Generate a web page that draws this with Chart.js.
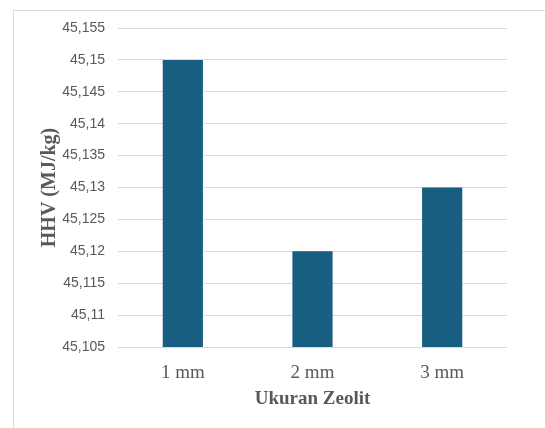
<!DOCTYPE html>
<html>
<head>
<meta charset="utf-8">
<script src="https://cdn.jsdelivr.net/npm/chart.js@4"></script>
<style>
    html, body { margin: 0; padding: 0; background: #fff; }
    #wrap { position: relative; width: 545px; height: 428px; overflow: hidden; }
    #frame { position: absolute; left: 13px; top: 10px; width: 600px; height: 500px; border-left: 1px solid #d9d9d9; border-top: 1px solid #d9d9d9; }
    #chart { position: absolute; left: 0; top: 0; }
</style>
</head>
<body>
<div id="wrap">
    <div id="frame"></div>
    <canvas id="chart" width="545" height="428"></canvas>
</div>
<script>
var categories = ["1 mm", "2 mm", "3 mm"];
var hhvValues = [45.15, 45.12, 45.13];
var yMin = 45.105;
var yMax = 45.155;
var yStep = 0.005;

function formatComma(v) {
    var s = (Math.round(v * 1000) / 1000).toString();
    return s.replace('.', ',');
}

var ctx = document.getElementById("chart").getContext('2d');
var myChart = new Chart(ctx, {
    type: 'bar',
    data: {
        labels: categories,
        datasets: [{
            data: hhvValues,
            backgroundColor: "#175E80",
            barPercentage: 0.62,
            categoryPercentage: 0.5
        }]
    },
    options: {
        responsive: false,
        animation: false,
        layout: {
            padding: { left: 0, right: 38, top: 28, bottom: 0 }
        },
        plugins: {
            legend: { display: false },
            tooltip: { enabled: false }
        },
        scales: {
            x: {
                grid: { display: false },
                border: { display: false },
                ticks: {
                    color: '#595959',
                    padding: 7,
                    font: { family: 'Liberation Serif', size: 19 }
                },
                title: {
                    display: true,
                    text: 'Ukuran Zeolit',
                    color: '#595959',
                    padding: { top: 4, bottom: 18 },
                    font: { family: 'Liberation Serif', size: 19, weight: 'bold' }
                },
                afterFit: function (scale) {
                    scale.height = 81;
                }
            },
            y: {
                min: yMin,
                max: yMax,
                grid: { color: '#d9d9d9', drawTicks: false },
                border: { display: false },
                ticks: {
                    stepSize: yStep,
                    color: '#595959',
                    padding: 13,
                    font: { family: 'Liberation Sans', size: 14 },
                    callback: function (value) {
                        return formatComma(value);
                    }
                },
                title: {
                    display: true,
                    text: 'HHV (MJ/kg)',
                    color: '#595959',
                    padding: { top: 38, bottom: 0 },
                    font: { family: 'Liberation Serif', size: 20, weight: 'bold' }
                },
                afterFit: function (scale) {
                    scale.width = 118;
                }
            }
        }
    }
});
</script>
</body>
</html>
